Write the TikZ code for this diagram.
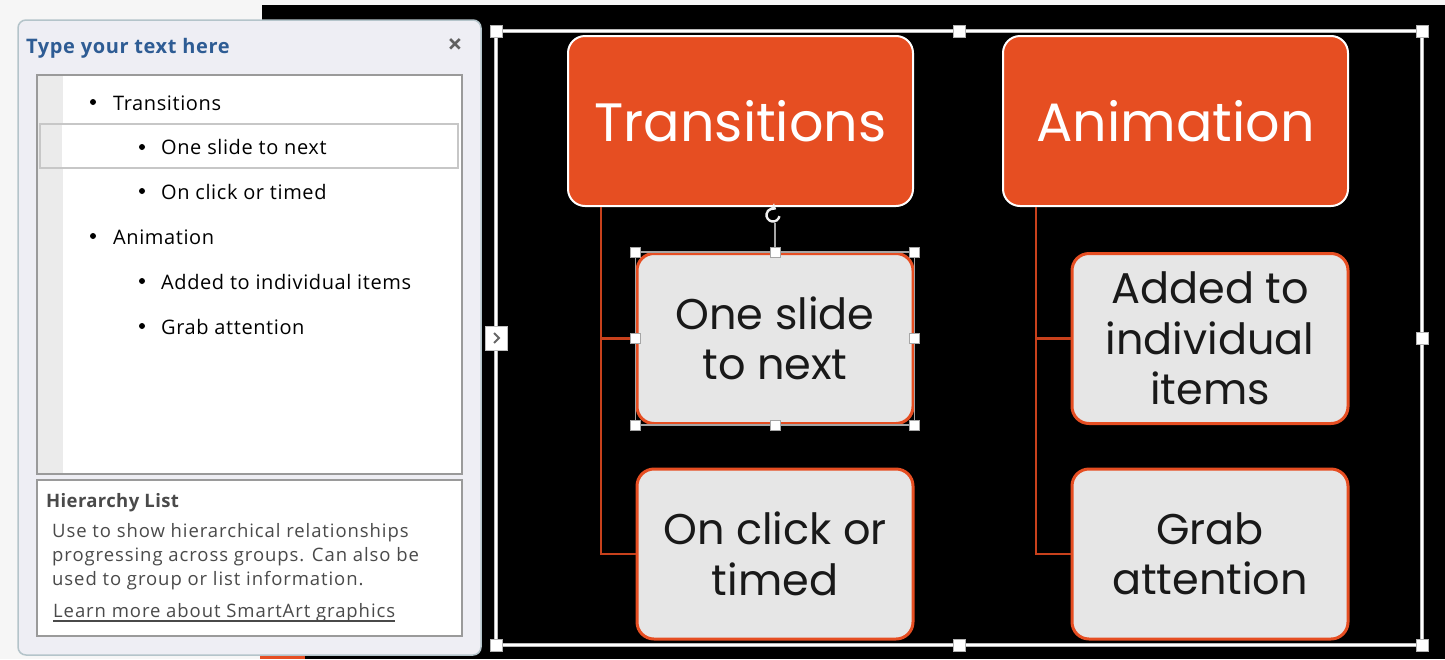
\documentclass[tikz,border=0pt]{standalone}
\usepackage{fontspec}
\usetikzlibrary{arrows.meta}
\newfontfamily\uititle{Open Sans}[LetterSpace=3]
\newfontfamily\uilist{Open Sans}[LetterSpace=3]
\newfontfamily\uidesc{Open Sans}[LetterSpace=5]
\newfontfamily\uihead{Open Sans}[LetterSpace=2]
\newfontfamily\uiclose{Open Sans}
\newfontfamily\gothic{Poppins}
\definecolor{orng}{HTML}{E64E22}
\definecolor{childfill}{HTML}{E6E6E6}
\definecolor{panebg}{HTML}{EEEEF4}
\definecolor{paneedge}{HTML}{B4C4CA}
\definecolor{outerbg}{HTML}{F6F6F6}
\definecolor{titleblue}{HTML}{2E5C94}
\definecolor{gutter}{HTML}{EBEBEB}
\definecolor{boxedge}{HTML}{9A9A9A}
\definecolor{desctext}{HTML}{4A4A4A}
\definecolor{connc}{HTML}{C8411C}
\tikzset{
  head/.style={draw=white, line width=2pt, fill=orng, rounded corners=17pt,
    minimum width=345pt, minimum height=170pt, inner sep=0pt, text=white,
    font=\gothic\fontsize{54}{60}\selectfont},
  child/.style={draw=orng, line width=3pt, fill=childfill, rounded corners=17pt,
    minimum width=276pt, minimum height=170pt, inner sep=0pt, text=black!90, align=center,
    font=\gothic\fontsize{43}{50.5}\selectfont},
  conn/.style={draw=connc, line width=2.8pt},
  fhandle/.style={draw=gray!60, fill=white, line width=1pt, minimum size=12pt, inner sep=0pt},
  shandle/.style={draw=gray!70, fill=white, line width=1pt, minimum size=10pt, inner sep=0pt},
  listtext/.style={anchor=base west, inner sep=0pt, font=\uilist\fontsize{20}{22}\selectfont, text=black},
  bulletdot/.style={circle, fill=black, inner sep=0pt, minimum size=6pt},
  desc/.style={anchor=base west, inner sep=0pt, font=\uidesc\fontsize{18.5}{20}\selectfont, text=desctext},
}
\begin{document}
\begin{tikzpicture}[x=1pt, y=-1pt]
\useasboundingbox (0,0) rectangle (1445,659);
% backgrounds
\fill[outerbg] (0,0) rectangle (1445,659);
\fill[black] (262,5) rectangle (1445,659);
\fill[orng] (260,655) rectangle (305,659);

% ---------- text pane ----------
\draw[paneedge, fill=panebg, line width=1.5pt, rounded corners=8pt] (18,20) rectangle (481,655);
\node[anchor=base west, inner sep=0pt, text=titleblue, font=\uititle\bfseries\fontsize{20}{22}\selectfont] (title) at (26,53) {Type your text here};
\node[inner sep=0pt, text=gray!75!black, font=\uiclose\bfseries\fontsize{26}{26}\selectfont] (close) at (455,46) {\symbol{"00D7}};
% list box
\draw[boxedge, fill=white, line width=1.5pt] (37,75) rectangle (462,474);
\fill[gutter] (38,76) rectangle (63,473);
\draw[black!22, fill=white, line width=1.5pt] (40,124) rectangle (458,168);
\fill[gutter] (41,125) rectangle (62,167);
% list items
\node[bulletdot] (b1) at (93,102) {};
\node[listtext] (l1) at (113,110) {Transitions};
\node[bulletdot] (b2) at (142,147) {};
\node[listtext] (l2) at (161,154) {One slide to next};
\node[bulletdot] (b3) at (142,191) {};
\node[listtext] (l3) at (161,199) {On click or timed};
\node[bulletdot] (b4) at (93,236) {};
\node[listtext] (l4) at (113,244) {Animation};
\node[bulletdot] (b5) at (142,281) {};
\node[listtext] (l5) at (161,289) {Added to individual items};
\node[bulletdot] (b6) at (142,326) {};
\node[listtext] (l6) at (161,334) {Grab attention};
% description box
\draw[boxedge, fill=white, line width=1.5pt] (37,480) rectangle (462,636);
\node[anchor=base west, inner sep=0pt, text=desctext, font=\uihead\bfseries\fontsize{18.5}{20}\selectfont] (hl) at (46,507) {Hierarchy List};
\node[desc] (d1) at (52,537) {Use to show hierarchical relationships};
\node[desc] (d2) at (52,561) {progressing across groups. Can also be};
\node[desc] (d3) at (52,585) {used to group or list information.};
\node[desc] (d4) at (53,617) {Learn more about SmartArt graphics};
\draw[desctext, line width=1.2pt] (d4.base west) ++(0,4) -- ([yshift=-4pt]d4.base east);

% ---------- SmartArt frame ----------
\draw[gray!55, line width=4.5pt] (496,31) rectangle (1422,645);
\draw[white, line width=2.5pt] (496,31) rectangle (1422,645);
\node[fhandle] (h1) at (496,31) {};
\node[fhandle] (h2) at (959,31) {};
\node[fhandle] (h3) at (1422,31) {};
\node[fhandle] (h4) at (1422,338) {};
\node[fhandle] (h5) at (1422,645) {};
\node[fhandle] (h6) at (959,645) {};
\node[fhandle] (h7) at (496,645) {};
\node[draw=gray!50, fill=white, line width=1pt, minimum width=22pt, minimum height=24pt, inner sep=0pt] (expand) at (496,338) {};
\draw[gray!80!black, line width=2pt] ([shift={(-2,-5)}]expand.center) -- ([shift={(3,0)}]expand.center) -- ([shift={(-2,5)}]expand.center);

% ---------- nodes ----------
\node[head] (trans) at (740.5,121) {Transitions};
\node[head] (anim) at (1175.5,121) {Animation};
\node[child] (one) at (775,338.5) {One slide\\to next};
\node[child] (click) at (775,554) {On click or\\timed};
\node[child] (added) at (1210,338.5) {Added to\\individual\\items};
\node[child] (grab) at (1210,554) {Grab\\attention};

% connectors
\draw[conn] ([xshift=34pt]trans.south west) |- (one.west);
\draw[conn] ([xshift=34pt]trans.south west) |- (click.west);
\draw[conn] ([xshift=34pt]anim.south west) |- (added.west);
\draw[conn] ([xshift=34pt]anim.south west) |- (grab.west);

% selection of "One slide to next"
\draw[gray!70, line width=1.2pt] (one.north west) rectangle (one.south east);
\coordinate (rot) at (773,215);
\draw[gray!70, line width=1.2pt] (one.north) -- (775,223);
\draw[white!88!gray, line width=2.4pt, -{Triangle[length=5pt,width=8pt]}] ([shift={(10:6.5)}]rot) arc[start angle=10, end angle=300, radius=6.5];
\foreach \a in {north west,north,north east,east,south east,south,south west,west}
  \node[shandle] at (one.\a) {};
\end{tikzpicture}
\end{document}
